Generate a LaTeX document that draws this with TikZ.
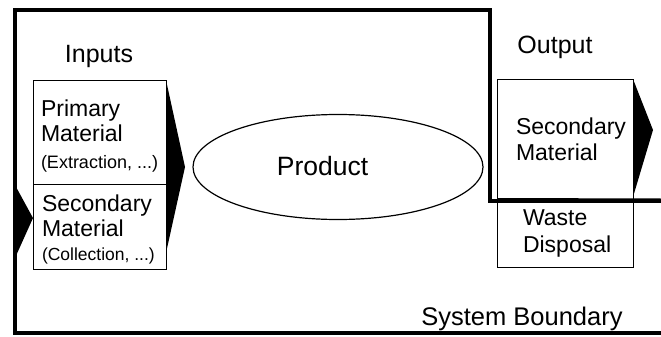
\documentclass[tikz,border=0pt]{standalone}
\usepackage{fontspec}
\setmainfont{Liberation Sans}
\usetikzlibrary{shapes.geometric}

\begin{document}
\begin{tikzpicture}
  [x=1pt, y=-1pt,
   every node/.style={inner sep=0pt, outer sep=0pt},
   box/.style={draw, line width=1pt, anchor=north west},
   lbl/.style={font=\fontsize{25}{27}\selectfont, anchor=base},
   txt/.style={font=\fontsize{23}{25.5}\selectfont, align=left, anchor=base west},
   bound/.style={line width=4pt, line join=miter},
   wedge/.style={fill=black}]
  \useasboundingbox (0,0) rectangle (661,337);
  \draw[bound] (661,200.5) -- (490,200.5) -- (490,10) -- (15,10) -- (15,333) -- (661,333);
  \node[box, minimum width=133, minimum height=104] (prim) at (33,80) {};
  \node[box, minimum width=133, minimum height=85] (sec) at (33,184) {};
  \node[box, minimum width=136, minimum height=121] (outsec) at (497,79) {};
  \node[box, minimum width=136, minimum height=67] (waste) at (497,200) {};
  \draw[bound] (outsec.south west) -- (661,200.5);
  \node[draw, ellipse, line width=1.2pt, minimum width=290, minimum height=105] (product) at (338,167) {};
  \node[lbl] (inputs) at (99,63) {Inputs};
  \node[lbl] (output) at (555,54) {Output};
  \node[lbl, font=\fontsize{26.5}{28}\selectfont] (prodtxt) at (322.5,175) {Product};
  \node[lbl, font=\fontsize{25.5}{28}\selectfont] (sysb) at (522,325) {System Boundary};
  \node[txt] (primtxt) at (41,168) {Primary\\Material\\[1pt]{\fontsize{18}{20}\selectfont (Extraction, ...)}};
  \node[txt] (sectxt) at (42,260) {Secondary\\Material\\[-2pt]{\fontsize{17.5}{20}\selectfont (Collection, ...)}};
  \node[txt] (outsectxt) at (516,160) {Secondary\\Material};
  \node[txt] (wastetxt) at (523,252) {Waste\\[1.5pt]Disposal};
  \fill[wedge] (prim.north east) -- ++(19,87) -- ++(-19,86) -- cycle;
  \fill[wedge] (outsec.north east) -- ++(20,51) -- ++(-20,67) -- cycle;
  \fill[wedge] (15,185) -- (sec.west |- 0,218) -- (15,258) -- cycle;
\end{tikzpicture}
\end{document}
